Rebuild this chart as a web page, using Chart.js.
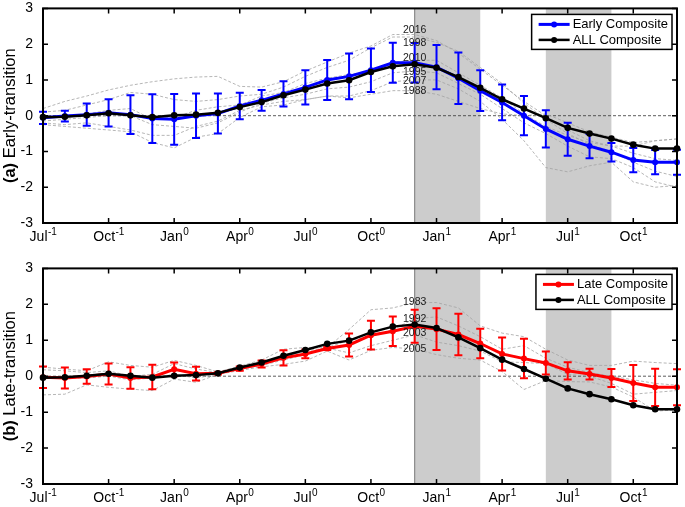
<!DOCTYPE html>
<html><head><meta charset="utf-8">
<script src="https://cdn.jsdelivr.net/npm/chart.js@4.4.0/dist/chart.umd.min.js"></script>
<style>
html,body{margin:0;padding:0;background:#fff;}
#wrap{position:relative;width:685px;height:507px;overflow:hidden;}
canvas{position:absolute;left:0;}
</style></head><body>
<div id="wrap">
<canvas id="ca" width="685" height="260" style="top:-10px"></canvas>
<canvas id="cb" width="685" height="257" style="top:250px"></canvas>
</div>
<script>
// ---------------- DATA ----------------
const months = ['Jul-1','Aug-1','Sep-1','Oct-1','Nov-1','Dec-1','Jan0','Feb0','Mar0','Apr0','May0','Jun0',
  'Jul0','Aug0','Sep0','Oct0','Nov0','Dec0','Jan1','Feb1','Mar1','Apr1','May1','Jun1','Jul1','Aug1','Sep1','Oct1','Nov1','Dec1'];
const xTickValues = [0,3,6,9,12,15,18,21,24,27];
const xTickMonths = ['Jul','Oct','Jan','Apr','Jul','Oct','Jan','Apr','Jul','Oct'];
const xTickYears = ['-1','-1','0','0','0','0','1','1','1','1'];
const yTickValues = [-3,-2,-1,0,1,2,3];
const shadePeriods = [[17,20],[23,26]];

const allComposite = [-0.04,-0.03,0.01,0.07,0.01,-0.04,0.01,0.03,0.08,0.24,0.38,0.57,0.73,0.90,0.99,1.22,1.38,1.44,1.34,1.08,0.78,0.46,0.20,-0.07,-0.34,-0.50,-0.64,-0.81,-0.92,-0.92];

const earlyComposite = [-0.06,-0.01,0.03,0.08,0.03,-0.08,-0.10,0.00,0.06,0.27,0.43,0.61,0.79,1.00,1.10,1.27,1.48,1.48,1.36,1.05,0.70,0.37,0.00,-0.37,-0.66,-0.85,-1.02,-1.24,-1.30,-1.30];
const earlyErr = [0.17,0.15,0.31,0.38,0.54,0.68,0.71,0.62,0.56,0.37,0.29,0.35,0.48,0.56,0.64,0.61,0.56,0.55,0.62,0.72,0.57,0.50,0.55,0.52,0.46,0.34,0.26,0.34,0.34,0.35];

const lateComposite = [-0.03,-0.05,-0.01,0.06,-0.05,-0.02,0.19,0.07,0.08,0.21,0.34,0.51,0.62,0.77,0.87,1.14,1.25,1.39,1.31,1.16,0.91,0.62,0.49,0.37,0.15,0.06,-0.05,-0.19,-0.31,-0.31];
const lateErr = [0.30,0.29,0.20,0.29,0.30,0.34,0.19,0.19,0.03,0.06,0.10,0.21,0.12,0.04,0.32,0.40,0.41,0.46,0.58,0.58,0.41,0.46,0.55,0.32,0.24,0.15,0.25,0.50,0.52,0.50];

const earlyYears = ['2016','1998','2010','1995','2007','1988'];
const y2016 = [0.20,0.40,0.55,0.72,0.85,0.95,1.03,1.08,1.10,0.82,0.80,0.95,1.25,1.50,1.75,1.95,2.27,2.27,2.10,1.75,1.30,0.85,0.40,0.00,-0.40,-0.70,-0.85,-1.05,-1.20,-1.25];
const y1998 = [0.10,0.15,0.30,0.45,0.65,0.60,0.45,0.40,0.45,0.55,0.60,0.80,1.10,1.35,1.55,1.90,2.20,2.20,2.05,1.80,1.35,0.90,0.35,-0.10,-0.50,-0.80,-1.00,-1.30,-1.55,-1.70];
const y2010 = [-0.05,0.00,0.05,0.15,0.20,-0.10,-0.05,0.15,0.25,0.30,0.55,0.65,0.90,1.05,1.15,1.25,1.50,1.55,1.55,1.20,0.85,0.50,0.05,-0.30,-0.55,-0.75,-0.85,-0.85,-0.70,-0.65];
const y1995 = [-0.15,-0.10,-0.05,0.00,0.00,-0.25,-0.30,-0.35,-0.20,0.10,0.35,0.50,0.60,0.75,0.80,0.95,1.20,1.25,1.20,0.90,0.60,0.20,-0.20,-0.50,-0.85,-1.15,-1.20,-1.45,-1.85,-2.00];
const y2007 = [-0.20,-0.25,-0.20,-0.30,-0.40,-0.55,-0.55,-0.30,-0.15,0.15,0.30,0.40,0.45,0.55,0.55,0.70,0.95,1.00,1.00,0.75,0.40,-0.10,-0.70,-1.45,-1.57,-1.40,-1.30,-1.85,-2.00,-1.95];
const y1988 = [-0.25,-0.30,-0.35,-0.40,-0.45,-0.75,-0.90,-0.60,-0.50,-0.05,0.25,0.30,0.45,0.55,0.50,0.60,0.70,0.70,0.60,0.40,0.20,0.05,0.00,0.05,-0.20,-0.45,-0.60,-0.75,-0.70,-0.65];

const lateYears = ['1983','1992','2003','2005'];
const y1983 = [0.25,0.20,0.15,0.40,0.30,0.25,0.44,0.30,0.12,0.28,0.45,0.75,0.80,0.80,1.30,1.85,1.90,2.05,2.05,1.90,1.40,1.20,1.10,0.75,0.45,0.30,0.30,0.42,0.38,0.35];
const y1992 = [0.18,0.15,0.10,0.15,0.00,0.05,0.35,0.20,0.10,0.20,0.35,0.55,0.70,0.80,1.00,1.10,1.30,1.60,1.65,1.40,1.10,0.75,0.85,0.50,0.25,0.10,0.00,-0.10,-0.20,-0.25];
const y2003 = [0.00,-0.05,-0.05,0.00,-0.10,-0.05,0.05,-0.05,0.05,0.20,0.30,0.45,0.60,0.78,0.65,0.85,1.00,1.15,0.95,0.85,0.70,0.40,0.38,0.35,0.05,0.00,-0.20,-0.50,-0.45,-0.40];
const y2005 = [-0.52,-0.50,-0.24,-0.31,-0.36,-0.40,-0.08,-0.17,0.05,0.16,0.26,0.33,0.42,0.70,0.45,0.72,0.80,0.76,0.60,0.50,0.45,0.13,-0.37,-0.12,-0.15,-0.16,-0.30,-0.58,-0.97,-0.94];

// ---------------- DRAWING ----------------
const FONT = '"Liberation Sans", Arial, Helvetica, sans-serif';
const toXY = arr => arr.map((v, i) => ({x: i, y: v}));

function makePanel(id, p) {
  const datasets = [
    {label: 'ALL Composite', data: toXY(allComposite), borderColor: '#000', backgroundColor: '#000',
     borderWidth: 2.5, pointRadius: 3.3, pointBorderWidth: 0, pointBackgroundColor: '#000', clip: false, tension: 0},
    {label: p.compLabel, data: toXY(p.comp), borderColor: p.color, backgroundColor: p.color,
     borderWidth: 3, pointRadius: 3, pointBorderWidth: 0, pointBackgroundColor: p.color, clip: false, tension: 0}
  ];
  p.years.forEach((arr, k) => datasets.push({label: p.yearNames[k], data: toXY(arr), borderColor: '#a3a3a3',
    borderWidth: 0.8, borderDash: [3, 2], pointRadius: 0, tension: 0}));

  const deco = {
    id: 'deco',
    beforeDatasetsDraw(chart) {
      const {ctx, chartArea: a, scales: {x, y}} = chart;
      ctx.save();
      ctx.fillStyle = '#cccccc';
      shadePeriods.forEach(([s, e]) => {
        const x0 = x.getPixelForValue(s), x1 = x.getPixelForValue(e);
        ctx.fillRect(x0, a.top, x1 - x0, a.bottom - a.top);
      });
      ctx.strokeStyle = '#8a8a8a'; ctx.lineWidth = 1.2;
      const xe = x.getPixelForValue(shadePeriods[0][0]);
      ctx.beginPath(); ctx.moveTo(xe, a.top); ctx.lineTo(xe, a.bottom); ctx.stroke();
      ctx.strokeStyle = '#333'; ctx.lineWidth = 0.8; ctx.setLineDash([3, 2]);
      const y0 = y.getPixelForValue(0);
      ctx.beginPath(); ctx.moveTo(a.left, y0); ctx.lineTo(a.right, y0); ctx.stroke();
      ctx.restore();
    },
    beforeDatasetDraw(chart, args) {
      if (args.index !== 0) return;
      const {ctx, scales: {x, y}} = chart;
      ctx.save();
      ctx.strokeStyle = p.color; ctx.lineWidth = 2;
      p.comp.forEach((m, i) => {
        const px = x.getPixelForValue(i);
        const yt = y.getPixelForValue(m + p.err[i]), yb = y.getPixelForValue(m - p.err[i]);
        ctx.beginPath();
        ctx.moveTo(px, yt); ctx.lineTo(px, yb);
        ctx.moveTo(px - 4, yt); ctx.lineTo(px + 4, yt);
        ctx.moveTo(px - 4, yb); ctx.lineTo(px + 4, yb);
        ctx.stroke();
      });
      ctx.restore();
    },
    afterDraw(chart) {
      const {ctx, chartArea: a, scales: {x, y}} = chart;
      ctx.save();
      ctx.strokeStyle = '#000'; ctx.lineWidth = 2;
      ctx.strokeRect(a.left, a.top, a.right - a.left, a.bottom - a.top);
      ctx.lineWidth = 1.5;
      ctx.beginPath();
      xTickValues.forEach(v => {
        const px = x.getPixelForValue(v);
        ctx.moveTo(px, a.bottom); ctx.lineTo(px, a.bottom - 5);
        ctx.moveTo(px, a.top); ctx.lineTo(px, a.top + 5);
      });
      yTickValues.forEach(v => {
        const py = y.getPixelForValue(v);
        ctx.moveTo(a.left, py); ctx.lineTo(a.left + 5, py);
        ctx.moveTo(a.right, py); ctx.lineTo(a.right - 5, py);
      });
      ctx.stroke();
      // x tick labels with superscripts, placed by the x scale
      ctx.fillStyle = '#000'; ctx.textAlign = 'left'; ctx.textBaseline = 'alphabetic';
      xTickValues.forEach((v, k) => {
        const px = x.getPixelForValue(v);
        ctx.font = '14px ' + FONT; const wb = ctx.measureText(xTickMonths[k]).width;
        ctx.font = '10px ' + FONT; const ws = ctx.measureText(xTickYears[k]).width;
        const sx = px - (wb + ws) / 2;
        ctx.font = '14px ' + FONT; ctx.fillText(xTickMonths[k], sx, a.bottom + 18);
        ctx.font = '10px ' + FONT; ctx.fillText(xTickYears[k], sx + wb + 0.5, a.bottom + 12);
      });
      // year labels
      ctx.fillStyle = '#1a1a1a'; ctx.font = '10.5px ' + FONT;
      ctx.textAlign = 'center'; ctx.textBaseline = 'middle';
      p.yearNames.forEach((n, k) => {
        ctx.fillText(n, x.getPixelForValue(p.labelX), y.getPixelForValue(p.labelY[k]));
      });
      // legend
      ctx.font = '13px ' + FONT;
      const entries = [{t: p.compLabel, c: p.color, w: 3, r: 3}, {t: 'ALL Composite', c: '#000', w: 2.5, r: 3}];
      const tw = Math.max(...entries.map(e => ctx.measureText(e.t).width));
      const boxR = a.right - 5, boxT = a.top + 6, boxH = 35;
      const textL = boxR - 4 - tw;
      const lineL = textL - 34, lineR = textL - 3;
      const boxL = lineL - 7;
      ctx.fillStyle = '#fff'; ctx.fillRect(boxL, boxT, boxR - boxL, boxH);
      ctx.strokeStyle = '#000'; ctx.lineWidth = 1.5; ctx.strokeRect(boxL, boxT, boxR - boxL, boxH);
      entries.forEach((e, k) => {
        const ey = boxT + 10 + k * 15.5;
        ctx.strokeStyle = e.c; ctx.lineWidth = e.w;
        ctx.beginPath(); ctx.moveTo(lineL, ey); ctx.lineTo(lineR, ey); ctx.stroke();
        ctx.fillStyle = e.c; ctx.beginPath(); ctx.arc((lineL + lineR) / 2, ey, e.r, 0, Math.PI * 2); ctx.fill();
        ctx.fillStyle = '#000'; ctx.textAlign = 'left'; ctx.textBaseline = 'middle';
        ctx.fillText(e.t, textL, ey + 0.5);
      });
      // y-axis title
      ctx.translate(15, (a.top + a.bottom) / 2);
      ctx.rotate(-Math.PI / 2);
      ctx.textBaseline = 'alphabetic'; ctx.textAlign = 'left'; ctx.fillStyle = '#000';
      ctx.font = 'bold 16.5px ' + FONT;
      const wb = ctx.measureText(p.tag).width;
      ctx.font = '16.5px ' + FONT;
      const wn = ctx.measureText(' ' + p.title).width;
      const sx = -(wb + wn) / 2;
      ctx.font = 'bold 16.5px ' + FONT; ctx.fillText(p.tag, sx, 0);
      ctx.font = '16.5px ' + FONT; ctx.fillText(' ' + p.title, sx + wb, 0);
      ctx.restore();
    }
  };

  return new Chart(document.getElementById(id), {
    type: 'line',
    data: {datasets},
    options: {
      responsive: false, animation: false, devicePixelRatio: 1,
      layout: {padding: {top: p.padTop, right: 8, left: 0, bottom: 0}},
      plugins: {legend: {display: false}, tooltip: {enabled: false}},
      scales: {
        x: {type: 'linear', min: 0, max: months.length - 1,
            afterBuildTicks: s => { s.ticks = xTickValues.map(v => ({value: v})); },
            afterFit: s => { s.height = p.xH; },
            grid: {display: false, drawTicks: false}, border: {display: false},
            ticks: {autoSkip: false, maxRotation: 0, padding: 4, color: 'rgba(0,0,0,0)', font: {family: FONT, size: 14},
                    callback: v => { const k = xTickValues.indexOf(v); return k >= 0 ? xTickMonths[k] + xTickYears[k] : ''; }}},
        y: {type: 'linear', min: -3, max: 3,
            afterBuildTicks: s => { s.ticks = yTickValues.map(v => ({value: v})); },
            afterFit: s => { s.width = 43; },
            grid: {display: false, drawTicks: false}, border: {display: false},
            ticks: {padding: 10, color: '#000', font: {family: FONT, size: 14}}}
      }
    },
    plugins: [deco]
  });
}

makePanel('ca', {comp: earlyComposite, err: earlyErr, color: '#0000ff', compLabel: 'Early Composite',
  years: [y2016, y1998, y2010, y1995, y2007, y1988], yearNames: earlyYears,
  labelX: 17, labelY: [2.38, 2.02, 1.6, 1.23, 0.97, 0.69],
  tag: '(a)', title: 'Early-transition', padTop: 17, xH: 27});
makePanel('cb', {comp: lateComposite, err: lateErr, color: '#ff0000', compLabel: 'Late Composite',
  years: [y1983, y1992, y2003, y2005], yearNames: lateYears,
  labelX: 17, labelY: [2.05, 1.6, 1.2, 0.75],
  tag: '(b)', title: 'Late-transition', padTop: 17, xH: 23});
</script>
</body></html>
